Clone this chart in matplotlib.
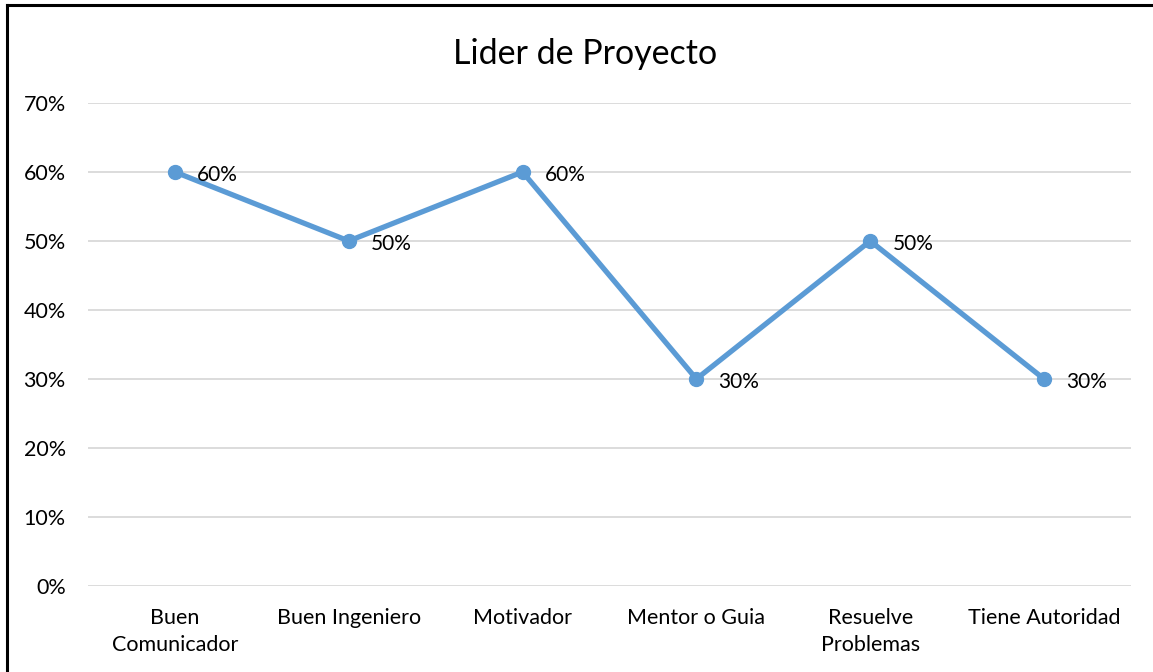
import matplotlib.pyplot as plt
from matplotlib.lines import Line2D
from matplotlib.ticker import PercentFormatter

# Chart data
categories = ['Buen\nComunicador', 'Buen Ingeniero', 'Motivador',
              'Mentor o Guia', 'Resuelve\nProblemas', 'Tiene Autoridad']
values = [0.60, 0.50, 0.60, 0.30, 0.50, 0.30]
y_ticks = [0, 0.1, 0.2, 0.3, 0.4, 0.5, 0.6, 0.7]

plt.rcParams['font.family'] = ['Lato', 'DejaVu Sans']

fig = plt.figure(figsize=(11.53, 6.72), dpi=100)
ax = fig.add_axes([0.0763, 0.128, 0.9046, 0.7188])

x = list(range(len(categories)))
ax.plot(x, values, color='#5B9BD5', linewidth=3.8, marker='o',
        markersize=10, solid_capstyle='round', zorder=3)

# Data labels to the right of each point
for xi, v in zip(x, values):
    ax.annotate(f'{v:.0%}', (xi, v), xytext=(16, -2), textcoords='offset points',
                ha='left', va='center', fontsize=15, color='#000000')

ax.set_xlim(-0.5, len(categories) - 0.5)
ax.set_ylim(0, 0.7)
ax.set_yticks(y_ticks)
ax.yaxis.set_major_formatter(PercentFormatter(1.0, decimals=0))
ax.set_xticks(x)
ax.set_xticklabels(categories, linespacing=1.45)
ax.tick_params(axis='both', length=0, labelsize=15.5, colors='#000000')
ax.tick_params(axis='y', pad=16)
ax.tick_params(axis='x', pad=16)
ax.grid(axis='y', color='#D9D9D9', linewidth=1.3)
ax.set_axisbelow(True)
for side in ['top', 'right', 'left', 'bottom']:
    ax.spines[side].set_visible(False)

fig.text(0.507, 0.92, 'Lider de Proyecto', ha='center', va='center',
         fontsize=24.5, color='#000000')

# Black frame on the left and top edges
fig.add_artist(Line2D([0.0065, 0.0065], [0, 0.9925], color='black',
                      linewidth=2.2, transform=fig.transFigure))
fig.add_artist(Line2D([0.0065, 1.0], [0.9925, 0.9925], color='black',
                      linewidth=2.2, transform=fig.transFigure))

fig.savefig('out.png', dpi=100)
